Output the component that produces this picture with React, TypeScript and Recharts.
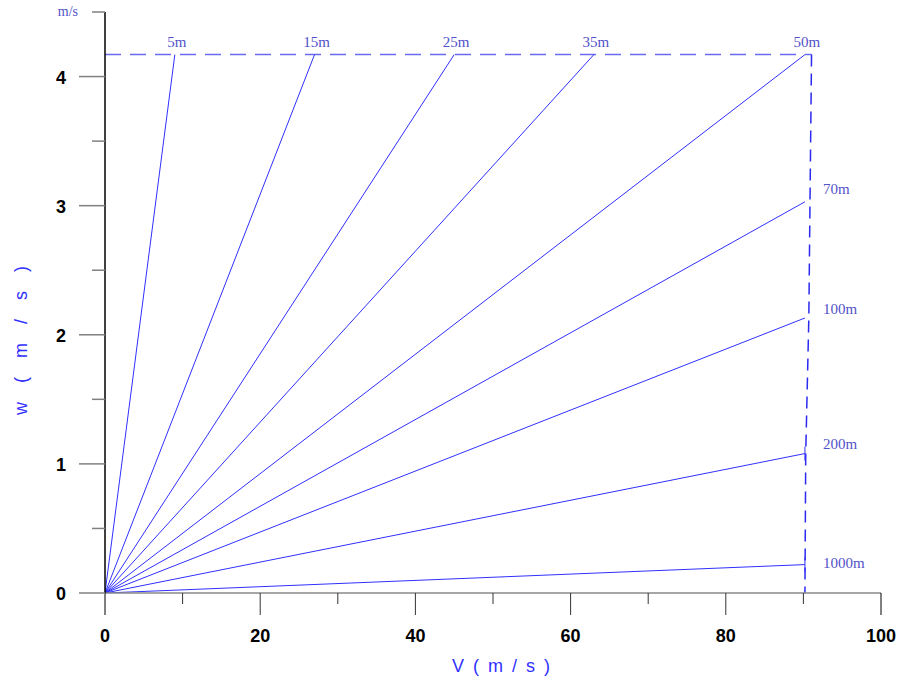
import { ComposedChart, Line, XAxis, YAxis } from 'recharts';

// distance curves: end point of each line drawn from the origin
const lineNames = ['5m', '15m', '25m', '35m', '50m', '70m', '100m', '200m', '1000m'];
const endV = [9, 27, 45, 63, 90.2, 90.2, 90.2, 90.2, 90.2];
const endW = [4.17, 4.17, 4.17, 4.17, 4.17, 3.03, 2.13, 1.08, 0.22];

// dashed envelope
const capV = [0, 91.05];
const capW = [4.17, 4.17];
const boundV = [91.05, 90.85, 90.7, 90.3, 90.2];
const boundW = [4.17, 3.03, 2.13, 1.08, 0];

const xTicks = [0, 10, 20, 30, 40, 50, 60, 70, 80, 90, 100];
const yTicks = [0, 0.5, 1, 1.5, 2, 2.5, 3, 3.5, 4, 4.5];

const LINE_BLUE = '#3030ff';
const LABEL_BLUE = '#5252c8';
const SANS = '"Liberation Sans", Arial, sans-serif';
const SERIF = '"Liberation Serif", "Times New Roman", serif';

// vertical nudge for the labels on the right side
const labelNudge: Record<string, number> = { '70m': -8, '100m': -4, '200m': -5, '1000m': 3 };

const toPoints = (vs: number[], ws: number[]) => vs.map((v, i) => ({ V: v, w: ws[i] }));

const XTick = ({ x, y, payload }: any) => {
    const v = payload.value;
    const major = v % 20 === 0;
    const edge = v === 0 || v === 100;
    return (
        <g>
            <line x1={x} x2={x} y1={y} y2={y + (major ? 22 : 11)} stroke={edge ? '#000' : '#333'} strokeWidth={1} />
            {major && (
                <text x={x} y={y + 49} textAnchor="middle" fontFamily={SANS} fontWeight="bold" fontSize={18} fill="#000">
                    {v}
                </text>
            )}
        </g>
    );
};

const YTick = ({ x, y, payload }: any) => {
    const v = payload.value;
    const major = Number.isInteger(v);
    return (
        <g>
            <line x1={x - (major ? 26 : 13)} x2={x} y1={y} y2={y} stroke="#808080" strokeWidth={1.5} />
            {major && (
                <text x={x - 39} y={y + 7} textAnchor="end" fontFamily={SANS} fontWeight="bold" fontSize={18} fill="#000">
                    {v}
                </text>
            )}
            {v === 4.5 && (
                <text x={x - 27} y={y + 4} textAnchor="end" fontFamily={SERIF} fontSize={14} fill={LABEL_BLUE}>
                    m/s
                </text>
            )}
        </g>
    );
};

const makeEnd = (name: string, top: boolean) => (p: any) => {
    const { cx, cy, index } = p;
    if (index !== 1) return <g key={`${name}-${index}`} />;
    const low = !top && (name === '200m' || name === '1000m');
    return (
        <g key={`${name}-${index}`}>
            {low && <line x1={cx} x2={cx} y1={cy - 7} y2={cy + 7} stroke={LINE_BLUE} strokeWidth={1} />}
            {top ? (
                <text x={cx + 2} y={cy - 8} textAnchor="middle" fontFamily={SERIF} fontSize={15} fill={LABEL_BLUE}>
                    {name}
                </text>
            ) : (
                <text x={cx + 18} y={cy + (labelNudge[name] ?? -6)} fontFamily={SERIF} fontSize={15} fill={LABEL_BLUE}>
                    {name}
                </text>
            )}
        </g>
    );
};

export default function App() {
    return (
        <div style={{ position: 'absolute', left: 0, top: 0, width: 903, height: 680, background: '#fff' }}>
            <ComposedChart width={903} height={680} margin={{ top: 12, right: 22, left: 0, bottom: 0 }}>
                <XAxis
                    dataKey="V"
                    type="number"
                    domain={[0, 100]}
                    ticks={xTicks}
                    interval={0}
                    height={87}
                    tickSize={0}
                    tickMargin={0}
                    tickLine={false}
                    axisLine={{ stroke: '#888', strokeWidth: 1.5 }}
                    tick={<XTick />}
                    allowDataOverflow
                />
                <YAxis
                    type="number"
                    domain={[0, 4.5]}
                    ticks={yTicks}
                    interval={0}
                    width={105}
                    tickSize={0}
                    tickMargin={0}
                    tickLine={false}
                    axisLine={{ stroke: '#000', strokeWidth: 1.5 }}
                    tick={<YTick />}
                    allowDataOverflow
                />

                {/* dashed envelope */}
                <Line
                    data={toPoints(capV, capW)}
                    dataKey="w"
                    stroke="#6a6af0"
                    strokeWidth={1.5}
                    strokeDasharray="16 9"
                    dot={false}
                    isAnimationActive={false}
                />
                <Line
                    data={toPoints(boundV, boundW)}
                    dataKey="w"
                    stroke="#2a2af0"
                    strokeWidth={1.5}
                    strokeDasharray="12 7"
                    dot={false}
                    isAnimationActive={false}
                />

                {lineNames.map((name, i) => (
                    <Line
                        key={name}
                        data={toPoints([0, endV[i]], [0, endW[i]])}
                        dataKey="w"
                        stroke={LINE_BLUE}
                        strokeWidth={1}
                        dot={makeEnd(name, i < 5)}
                        activeDot={false}
                        isAnimationActive={false}
                    />
                ))}
            </ComposedChart>

            <svg width={903} height={680} style={{ position: 'absolute', left: 0, top: 0, pointerEvents: 'none' }}>
                <text x={452} y={672} fontFamily={SANS} fontSize={18} letterSpacing={2} fill={LINE_BLUE}>
                    V ( m / s )
                </text>
                <text
                    x={0}
                    y={0}
                    transform="translate(27 337) rotate(-90)"
                    textAnchor="middle"
                    fontFamily={SANS}
                    fontSize={18}
                    letterSpacing={7}
                    fill={LINE_BLUE}
                >
                    w ( m / s )
                </text>
            </svg>
        </div>
    );
}
